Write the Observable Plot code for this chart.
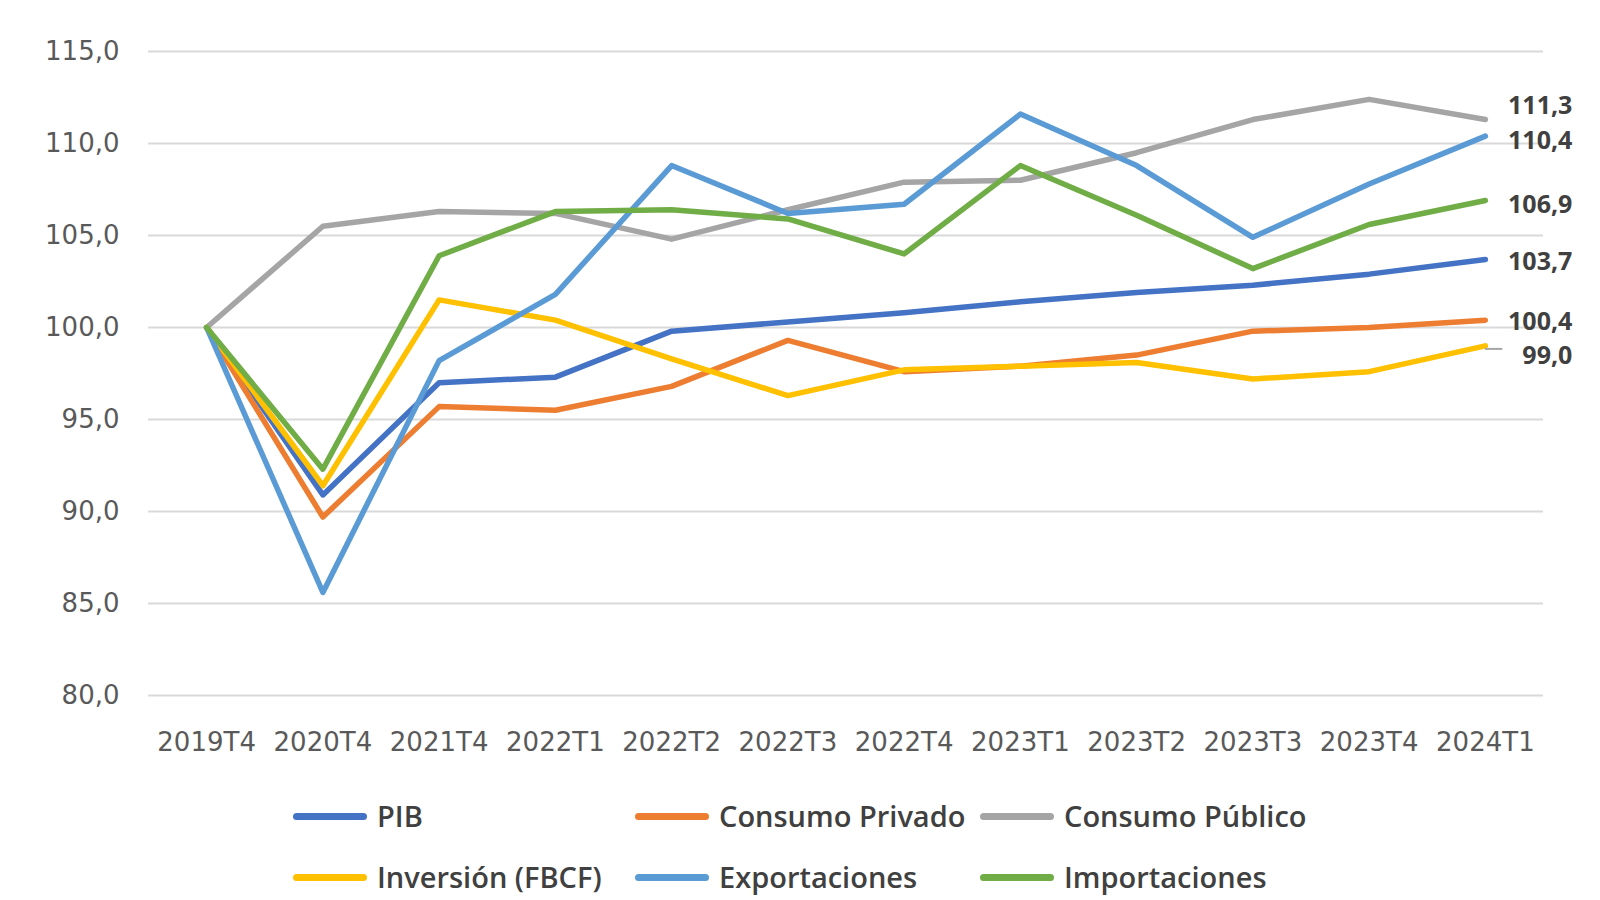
<!DOCTYPE html>
<html>
<head>
<meta charset="utf-8">
<script src="https://cdn.jsdelivr.net/npm/d3@7"></script>
<script src="https://cdn.jsdelivr.net/npm/@observablehq/plot@0.6"></script>
<style>
  html, body { margin: 0; padding: 0; background: #fff; }
  #wrap { position: relative; width: 1600px; height: 900px; overflow: hidden; }
  #chart { position: absolute; left: 0; top: 0; }
  #legend {
    position: absolute; left: 293px; top: 786px;
    display: grid; grid-template-columns: 342px 345px auto; grid-auto-rows: 61px;
    font-family: "Open Sans", sans-serif; font-weight: 600; font-size: 29px; line-height: 1.2; color: #404040;
  }
  .item { display: flex; align-items: center; white-space: nowrap; }
  .sw { width: 74px; height: 7px; border-radius: 4px; margin-right: 10px; flex: none; }
</style>
</head>
<body>
<div id="wrap">
  <div id="chart"></div>
  <div id="legend"></div>
</div>
<script>
const quarters = ["2019T4","2020T4","2021T4","2022T1","2022T2","2022T3","2022T4","2023T1","2023T2","2023T3","2023T4","2024T1"];
const seriesNames = ["PIB","Consumo Privado","Consumo Público","Inversión (FBCF)","Exportaciones","Importaciones"];
const seriesColors = ["#4472C4","#ED7D31","#A5A5A5","#FFC000","#5B9BD5","#70AD47"];
const pib        = [100, 90.9, 97.0, 97.3, 99.8, 100.3, 100.8, 101.4, 101.9, 102.3, 102.9, 103.7];
const consPriv   = [100, 89.7, 95.7, 95.5, 96.8, 99.3, 97.6, 97.9, 98.5, 99.8, 100.0, 100.4];
const consPub    = [100, 105.5, 106.3, 106.2, 104.8, 106.4, 107.9, 108.0, 109.5, 111.3, 112.4, 111.3];
const inversion  = [100, 91.4, 101.5, 100.4, 98.3, 96.3, 97.7, 97.9, 98.1, 97.2, 97.6, 99.0];
const exportac   = [100, 85.6, 98.2, 101.8, 108.8, 106.2, 106.7, 111.6, 108.8, 104.9, 107.8, 110.4];
const importac   = [100, 92.3, 103.9, 106.3, 106.4, 105.9, 104.0, 108.8, 106.1, 103.2, 105.6, 106.9];
const yTicks = [80, 85, 90, 95, 100, 105, 110, 115];

const seriesValues = [pib, consPriv, consPub, inversion, exportac, importac];
const rows = seriesNames.flatMap((name, s) =>
  seriesValues[s].map((v, i) => ({ series: name, i, q: quarters[i], value: v })));
const last = quarters.length - 1;
const ends = seriesNames.map((name, s) => ({ series: name, i: last, value: seriesValues[s][last] }));
const fmt = v => v.toFixed(1).replace(".", ",");

// per-label vertical nudges (px) to avoid overlap, like the original
const nudge = { "Consumo Público": -14, "Exportaciones": 5, "Importaciones": 4, "PIB": 3, "Consumo Privado": 2, "Inversión (FBCF)": 10 };

const plot = Plot.plot({
  width: 1600,
  height: 770,
  marginLeft: 148,
  marginRight: 57,
  marginTop: 51,
  marginBottom: 75,
  style: { fontFamily: "DejaVu Sans, sans-serif", background: "transparent" },
  x: { type: "linear", domain: [-0.5, last + 0.5] },
  y: { domain: [80, 115] },
  color: { domain: seriesNames, range: seriesColors },
  marks: [
    Plot.ruleY(yTicks, { stroke: "#D9D9D9", strokeWidth: 2 }),
    Plot.axisY({ ticks: yTicks, tickSize: 0, tickPadding: 29, tickFormat: fmt, fontSize: 26, fill: "#595959", label: null }),
    Plot.axisX({ ticks: d3.range(quarters.length), tickSize: 0, tickPadding: 37, tickFormat: i => quarters[i], fontSize: 26, fill: "#595959", label: null }),
    Plot.line(rows, { x: "i", y: "value", z: "series", stroke: "series", strokeWidth: 5.5, strokeLinejoin: "round", strokeLinecap: "round" }),
    Plot.ruleY([ends[3]], { y: "value", x1: d => d.i, x2: d => d.i + 0.15, stroke: "#A5A5A5", strokeWidth: 2, dy: 3 }),
    ...ends.map(e => Plot.text([e], {
      x: "i", y: "value", text: d => fmt(d.value), textAnchor: "end", dx: 87, dy: nudge[e.series],
      fontFamily: "Open Sans, sans-serif", fontWeight: 700, fontSize: 25, fill: "#404040"
    }))
  ]
});
document.getElementById("chart").appendChild(plot);

const legend = document.getElementById("legend");
seriesNames.forEach((name, s) => {
  const it = document.createElement("div");
  it.className = "item";
  const sw = document.createElement("span");
  sw.className = "sw";
  sw.style.background = seriesColors[s];
  const tx = document.createElement("span");
  tx.textContent = name;
  it.appendChild(sw); it.appendChild(tx);
  legend.appendChild(it);
});
</script>
</body>
</html>
